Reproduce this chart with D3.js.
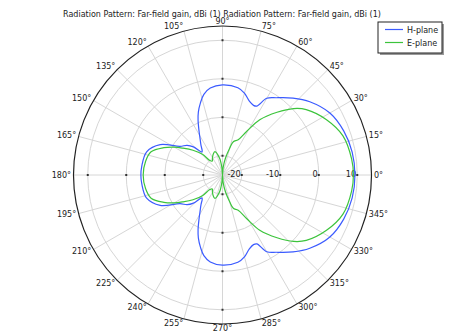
<!DOCTYPE html>
<html><head><meta charset="utf-8">
<script src="https://cdn.jsdelivr.net/npm/d3@7/dist/d3.min.js"></script>
<style>body{margin:0;background:#fff}svg{display:block}text{font-family:"DejaVu Sans",sans-serif}</style>
</head><body><svg id="c" width="451" height="333"></svg>
<script>
const titleText = "Radiation Pattern: Far-field gain, dBi (1)  Radiation Pattern: Far-field gain, dBi (1)";
const seriesNames = ["H-plane", "E-plane"];
const seriesColors = ["#3b5bff", "#3cc43c"];
const radialTicks = [-20, -10, 0, 10];
const angleTicks = d3.range(0, 360, 15);

const hAngles = [0,10,20,30,40,47.5,55,60,63.5,66,70,75,80,90,98,103,107,111,114,118,121,126,130,132,136,140,146,154,163,174,180,
  186,197,206,214,220,224,228,230,234,239,242,246,249,253,257,262,270,280,285,290,294,296.5,300,305,312.5,320,330,340,350];
const hGain = [9.4,9.2,8.5,7.2,4.6,2.1,-0.5,-2.0,-5.0,-5.2,-4.6,-3.0,-2.0,-1.6,-2.2,-3.5,-5.4,-7.5,-9.4,-12,-13.6,-15.5,-16.8,-17.0,-14.5,-13.0,-11.7,-7.0,-4.4,-3.9,-3.8,
  -3.9,-4.4,-7.0,-11.7,-13.0,-14.5,-17.0,-16.8,-15.5,-13.6,-12,-9.4,-7.5,-5.4,-3.5,-2.2,-1.6,-2.0,-3.0,-4.6,-5.2,-5.0,-2.0,-0.5,2.1,4.6,7.2,8.5,9.2];

const eAngles = [0,7,18,28,38,43,49,56,61,66,72,75,80,85,90,95,100,108,115,120,126,131,134,140,146,150,155,162,170,180,
  190,198,205,210,214,220,226,229,234,240,245,252,260,265,270,275,280,285,288,294,299,304,311,317,322,332,342,353];
const eGain = [9.0,8.8,7.9,5.6,2.6,0.3,-3.4,-7.7,-12.1,-15.0,-15.9,-17.8,-20.5,-23,-25,-23,-20.5,-18.6,-19.2,-19.8,-20.5,-20,-17.5,-15,-12.5,-10.5,-8.2,-5.5,-4.7,-4.4,
  -4.7,-5.5,-8.2,-10.5,-12.5,-15,-17.5,-20,-20.5,-19.8,-19.2,-18.6,-20.5,-23,-25,-23,-20.5,-17.8,-15.9,-15.0,-12.1,-7.7,-3.4,0.3,2.6,5.6,7.9,8.8];

const W = 451, H = 333, cx = 222.5, cy = 175, R = 149;
const svg = d3.select("#c");
const r = d3.scaleLinear().domain([-25, 13.7]).range([0, R]).clamp(true);
const rad = d => d * Math.PI / 180;

// grid
const g = svg.append("g").attr("transform", `translate(${cx},${cy})`);
g.selectAll(".spoke").data(angleTicks).join("line")
  .attr("x1", 0).attr("y1", 0)
  .attr("x2", d => R * Math.cos(rad(d))).attr("y2", d => -R * Math.sin(rad(d)))
  .attr("stroke", "#d6d6d6").attr("stroke-width", 1);
g.selectAll(".ring").data(radialTicks).join("circle")
  .attr("r", d => r(d)).attr("fill", "none").attr("stroke", "#d6d6d6").attr("stroke-width", 1);
// tick dots on the four axes
[0, 90, 180, 270].forEach(a => {
  g.selectAll(null).data(radialTicks).join("rect")
    .attr("x", d => r(d) * Math.cos(rad(a)) - 1).attr("y", d => -r(d) * Math.sin(rad(a)) - 1)
    .attr("width", 2).attr("height", 2).attr("fill", "#333");
});
g.append("circle").attr("r", R).attr("fill", "none").attr("stroke", "#222").attr("stroke-width", 1.2);

// radial labels
g.selectAll(".rl").data(radialTicks).join("text")
  .attr("x", d => r(d) - 1).attr("y", 1.5).attr("text-anchor", "end")
  .attr("font-size", 8.2).attr("fill", "#222").text(d => d);

// angle labels
g.selectAll(".al").data(angleTicks).join("text")
  .attr("font-size", 8).attr("fill", "#222")
  .attr("text-anchor", d => { const c = Math.cos(rad(d)); return c > 0.01 ? "start" : c < -0.01 ? "end" : "middle"; })
  .attr("dominant-baseline", "central")
  .attr("x", d => (R + 2.5) * Math.cos(rad(d)))
  .attr("y", d => -(R + 2.5) * Math.sin(rad(d)) - 2 * Math.sin(rad(d)))
  .text(d => d + "°");

// curves
const line = d3.lineRadial().curve(d3.curveCatmullRomClosed.alpha(0.5))
  .angle(d => rad(90 - d[0])).radius(d => r(d[1]));
const series = [d3.zip(hAngles, hGain), d3.zip(eAngles, eGain)];
g.selectAll(".curve").data(series).join("path")
  .attr("d", line).attr("fill", "none")
  .attr("stroke", (d, i) => seriesColors[i]).attr("stroke-width", 1.2);

// title
svg.append("text").attr("x", 222).attr("y", 17).attr("text-anchor", "middle")
  .attr("font-size", 8).attr("fill", "#222").text(titleText);

// legend
const lg = svg.append("g");
lg.append("rect").attr("x", 380).attr("y", 24).attr("width", 64).attr("height", 31).attr("fill", "#999");
lg.append("rect").attr("x", 378).attr("y", 22).attr("width", 64).attr("height", 31).attr("fill", "#fff").attr("stroke", "#222").attr("stroke-width", 1);
seriesNames.forEach((n, i) => {
  const y = 29.5 + i * 13;
  lg.append("line").attr("x1", 385).attr("x2", 403).attr("y1", y).attr("y2", y).attr("stroke", seriesColors[i]).attr("stroke-width", 1.2);
  lg.append("text").attr("x", 407).attr("y", y + 3).attr("font-size", 8).attr("fill", "#222").text(n);
});
</script></body></html>
